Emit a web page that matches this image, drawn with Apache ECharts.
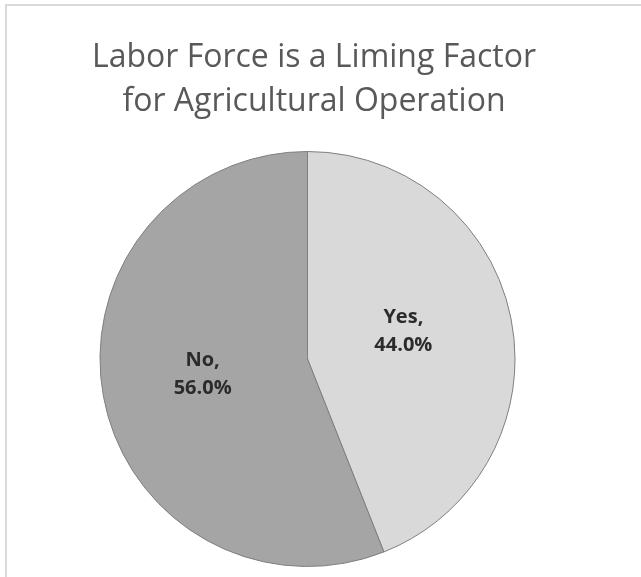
<!DOCTYPE html>
<html>
<head>
<meta charset="utf-8">
<script src="https://cdn.jsdelivr.net/npm/echarts@6/dist/echarts.min.js"></script>
<style>html,body{margin:0;padding:0;background:#fff;}#c{width:641px;height:577px;}</style>
</head>
<body>
<div id="c"></div>
<script>
const titleLines = ["Labor Force is a Liming Factor", "for Agricultural Operation"];
const categories = ["Yes", "No"];
const values = [44.0, 56.0];
const sliceColors = ["#d9d9d9", "#a5a5a5"];
const labelOffsets = [[-9, -8], [0, -5]];

const chart = echarts.init(document.getElementById('c'), null, {renderer: 'canvas'});
chart.setOption({
  backgroundColor: '#ffffff',
  animation: false,
  title: {
    text: titleLines.join('\n'),
    left: 309,
    top: 31,
    textAlign: 'center',
    textStyle: {
      fontFamily: 'Open Sans',
      fontWeight: 'normal',
      fontSize: 32,
      color: '#595959',
      lineHeight: 44
    }
  },
  graphic: [{
    type: 'rect',
    shape: {x: 6, y: 5, width: 700, height: 700},
    style: {fill: 'none', stroke: '#d9d9d9', lineWidth: 2},
    silent: true
  }],
  series: [{
    type: 'pie',
    center: [307.5, 359],
    radius: 207.5,
    startAngle: 90,
    clockwise: true,
    data: categories.map((c, i) => ({
      name: c, value: values[i],
      itemStyle: {color: sliceColors[i]},
      label: {offset: labelOffsets[i]}
    })),
    itemStyle: {borderColor: '#808080', borderWidth: 1},
    label: {
      show: true,
      position: 'inside',
      formatter: p => p.name + ',\n' + p.value.toFixed(1) + '%',
      fontFamily: 'Open Sans',
      fontWeight: 'bold',
      fontSize: 20,
      lineHeight: 28,
      color: '#2b2b2b',
      align: 'center'
    },
    labelLine: {show: false},
    emphasis: {disabled: true}
  }]
});
</script>
</body>
</html>
